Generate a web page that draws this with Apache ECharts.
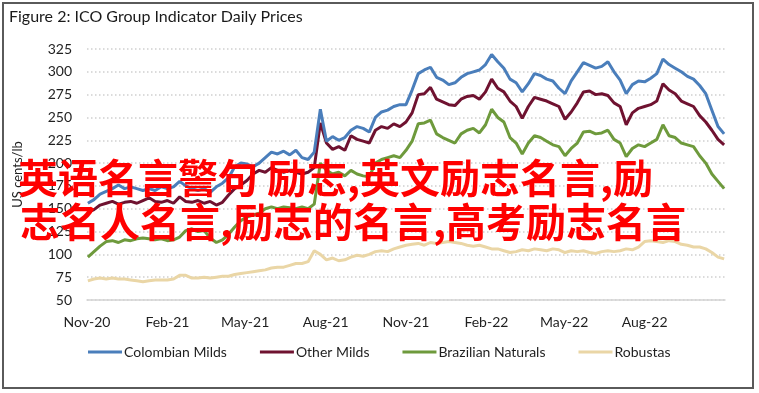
<!DOCTYPE html>
<html>
<head>
<meta charset="utf-8">
<script src="https://cdn.jsdelivr.net/npm/echarts@6/dist/echarts.min.js"></script>
<style>html,body{margin:0;padding:0;background:#fff;}#c{width:759px;height:393px;}</style>
</head>
<body>
<div id="c"></div>
<script>
var dates = [
'2020-11-02','2020-11-09','2020-11-16','2020-11-23','2020-11-30','2020-12-07','2020-12-14','2020-12-21','2020-12-28',
'2021-01-04','2021-01-11','2021-01-18','2021-01-25','2021-02-01','2021-02-08','2021-02-15','2021-02-22','2021-03-01',
'2021-03-08','2021-03-15','2021-03-22','2021-03-29','2021-04-05','2021-04-12','2021-04-19','2021-04-26','2021-05-03',
'2021-05-10','2021-05-17','2021-05-24','2021-05-31','2021-06-07','2021-06-14','2021-06-21','2021-06-28','2021-07-05',
'2021-07-12','2021-07-19','2021-07-26','2021-08-02','2021-08-09','2021-08-16','2021-08-23','2021-08-30','2021-09-06',
'2021-09-13','2021-09-20','2021-09-27','2021-10-04','2021-10-11','2021-10-18','2021-10-25','2021-11-01','2021-11-08',
'2021-11-15','2021-11-22','2021-11-29','2021-12-06','2021-12-13','2021-12-20','2021-12-27',
'2022-01-03','2022-01-10','2022-01-17','2022-01-24','2022-01-31','2022-02-07','2022-02-14','2022-02-21','2022-02-28',
'2022-03-07','2022-03-14','2022-03-21','2022-03-28','2022-04-04','2022-04-11','2022-04-18','2022-04-25','2022-05-02',
'2022-05-09','2022-05-16','2022-05-23','2022-05-30','2022-06-06','2022-06-13','2022-06-20','2022-06-27','2022-07-04',
'2022-07-11','2022-07-18','2022-07-25','2022-08-01','2022-08-08','2022-08-15','2022-08-22','2022-08-29','2022-09-05',
'2022-09-12','2022-09-19','2022-09-26','2022-10-03','2022-10-10','2022-10-17','2022-10-24','2022-10-31'
];
var colombianMilds = [
156,160,166,169,172,176,172,174,172,170,
172,170,174,172,174,180,175,172,170,172,
168,174,178,184,196,200,199,196,200,206,
212,210,213,209,214,206,204,212,259,224,
229,225,228,236,240,238,234,250,256,258,
262,264,
264,280,298,302,305,294,291,
286,288,294,298,300,302,308,319,311,304,
292,288,278,287,298,296,292,290,282,276,
290,300,310,307,304,306,311,300,291,276,
286,290,289,293,298,314,308,304,300,295,
292,285,276,258,240,232
];
var otherMilds = [
146,149,154,156,158,155,157,158,156,159,
162,158,157,159,156,163,158,157,159,156,
158,154,157,165,172,176,181,188,192,190,
195,192,190,192,190,188,190,195,244,222,
215,218,214,230,226,224,222,236,240,238,
243,240,
245,255,275,276,283,270,267,
264,263,270,273,274,270,278,292,282,278,
268,262,249,262,272,270,268,265,262,248,
256,266,278,279,275,276,274,266,262,242,
255,260,262,264,268,287,280,276,268,265,
262,252,245,236,226,220
];
var brazilianNaturals = [
97,103,109,114,115,113,116,115,117,118,
117,116,117,115,116,119,126,128,125,126,
118,113,116,122,130,137,141,143,145,150,
152,150,152,151,150,152,150,155,200,192,
188,190,186,192,188,186,185,200,204,206,
208,206,
214,224,243,244,247,232,228,
225,222,232,236,238,233,242,259,250,245,
228,222,210,222,230,228,224,220,218,208,
216,222,234,235,232,233,236,226,222,207,
216,220,218,222,226,242,230,228,222,220,
218,208,200,188,180,172
];
var robustas = [
71,73,74,73,74,73,73,72,71,70,
71,72,72,72,73,77,77,74,74,75,
74,75,76,76,78,79,80,81,82,83,
85,86,86,88,90,90,92,104,100,94,
96,93,94,97,99,98,100,103,104,103,
106,108,
110,111,112,110,113,112,113,
114,113,112,110,109,110,108,106,106,104,
102,103,105,104,106,105,104,106,105,102,
104,103,104,102,101,103,104,103,104,106,
105,108,114,115,114,113,115,114,111,110,
108,108,106,102,97,95
];
var tickDates = ['2020-11-01','2021-02-01','2021-05-01','2021-08-01','2021-11-01','2022-02-01','2022-05-01','2022-08-01'];
var tickLabels = ['Nov-20','Feb-21','May-21','Aug-21','Nov-21','Feb-22','May-22','Aug-22'];
var seriesNames = ['Colombian Milds','Other Milds','Brazilian Naturals','Robustas'];
var seriesColors = ['#4a7ebb','#6f1230','#6e9a3c','#ead6a6'];
var axisStart = '2020-11-01', axisEnd = '2022-11-01';
var overlayLines = ['英语名言警句 励志,英文励志名言,励','志名人名言,励志的名言,高考励志名言'];

function dayOf(s){ var p=s.split('-'); return (Date.UTC(+p[0],+p[1]-1,+p[2]) - Date.UTC(2020,10,1))/86400000; }
var tickDays = tickDates.map(dayOf);
var seriesValues = [colombianMilds, otherMilds, brazilianNaturals, robustas];
var FONT = 'Lato, "Open Sans", sans-serif';

var chart = echarts.init(document.getElementById('c'), null, {renderer:'canvas'});
chart.setOption({
  animation:false,
  backgroundColor:'#fff',
  grid:{left:87, right:34, top:49, bottom:93, containLabel:false},
  xAxis:{
    type:'value', min:dayOf(axisStart), max:dayOf(axisEnd),
    splitLine:{show:false},
    axisLine:{show:true, lineStyle:{color:'#d4d4d4', width:1.5}},
    axisTick:{show:false},
    axisLabel:{
      customValues:tickDays, margin:15, color:'#1f1f1f', fontSize:14, fontFamily:FONT,
      formatter:function(v){ var i=tickDays.indexOf(v); return i>=0?tickLabels[i]:''; }
    }
  },
  yAxis:{
    type:'value', min:50, max:325, interval:25,
    name:'US cents/lb', nameLocation:'middle', nameGap:63,
    nameTextStyle:{color:'#1f1f1f', fontSize:13, fontFamily:FONT},
    axisLine:{show:false}, axisTick:{show:false},
    axisLabel:{color:'#1f1f1f', fontSize:14, fontFamily:FONT, margin:15},
    splitLine:{show:true, lineStyle:{color:'#cfcfcf', width:1.5, type:[1.5,2.5]}}
  },
  legend:{
    data:seriesNames, bottom:29, left:83, icon:'rect', itemWidth:34, itemHeight:3, itemGap:33,
    textStyle:{color:'#1f1f1f', fontSize:14, fontFamily:FONT, padding:[0,0,0,-3]}
  },
  series: seriesNames.map(function(n,i){
    return {
      name:n, type:'line', showSymbol:false, symbol:'none',
      data: dates.map(function(d,j){ return [dayOf(d), seriesValues[i][j]]; }),
      lineStyle:{color:seriesColors[i], width:3}, itemStyle:{color:seriesColors[i]},
      z: 4 - i
    };
  }),
  graphic:[
    {type:'rect', shape:{x:3, y:3, width:750, height:385}, style:{fill:'none', stroke:'#5a5a5a', lineWidth:2}, z:50},
    {type:'text', x:9, y:9, style:{text:'Figure 2: ICO Group Indicator Daily Prices', fill:'#1a1a1a', font:'16px '+FONT}, z:50},
    {type:'text', x:18, y:158, style:{text:overlayLines[0], fill:'#ff0000', font:'bold 40px "Noto Sans CJK SC"'}, z:100},
    {type:'text', x:20, y:202, style:{text:overlayLines[1], fill:'#ff0000', font:'bold 40px "Noto Sans CJK SC"'}, z:100}
  ]
});
</script>
</body>
</html>
